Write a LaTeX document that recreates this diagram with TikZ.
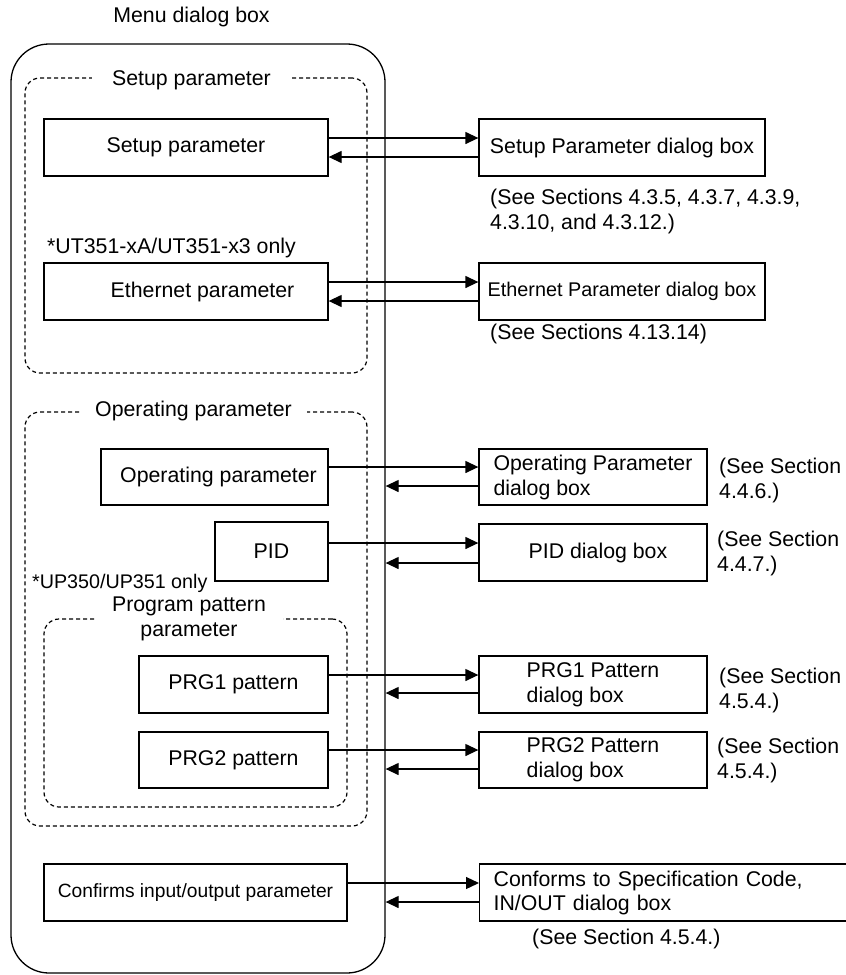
\documentclass[tikz,border=0pt]{standalone}
\usepackage{fontspec}
\setmainfont{Liberation Sans}
\usetikzlibrary{arrows.meta,calc}
\begin{document}
\begin{tikzpicture}[x=1pt,y=-1pt,
  every node/.style={font=\fontsize{21.3pt}{25pt}\selectfont, inner sep=0pt},
  box/.style={draw, line width=1.3pt, minimum height=57pt},
  grp/.style={draw, line width=1.2pt, dash pattern=on 4pt off 3pt, rounded corners=15pt},
  gtitle/.style={fill=white, inner ysep=2pt, align=center},
  note/.style={anchor=west, align=left},
  conn/.style={line width=1.3pt, -{Triangle[length=13pt,width=12pt]}},
]
\useasboundingbox (0,0) rectangle (846,975);

% title and outer box
\node (title) at (191.5,17) {Menu dialog box};
\node[draw, line width=1.3pt, rounded corners=38pt, minimum width=374pt, minimum height=929pt] (menu) at (198,508.5) {};

% group boxes
\node[grp, minimum width=342pt, minimum height=295pt] (setupgrp) at (196,225.5) {};
\node[gtitle, inner xsep=20.5pt] (setupttl) at (191.5,80) {Setup parameter};
\node[grp, minimum width=342pt, minimum height=414pt] (opgrp) at (196,619) {};
\node[gtitle, inner xsep=15pt] (opttl) at (193.5,411) {Operating parameter};
\node[grp, minimum width=303pt, minimum height=188pt] (prggrp) at (195.5,713) {};
\node[gtitle, inner xsep=17pt] (prgttl) at (189,618.5) {Program pattern\\parameter};

% notes on the left
\node[anchor=west] (utnote) at (47,248) {*UT351-xA/UT351-x3 only};
\node[anchor=west, font=\fontsize{19.7pt}{24pt}\selectfont] (upnote) at (32,583) {*UP350/UP351 only};

% left boxes
\node[box, minimum width=284pt] (sp) at (186,147.5) {Setup parameter};
\node[box, minimum width=284pt] (et) at (186,291.5) {\hspace{33pt}Ethernet parameter};
\node[box, minimum width=227pt, minimum height=56pt] (op) at (214.5,477) {\hspace{8pt}Operating parameter};
\node[box, minimum width=113pt, minimum height=59pt] (pid) at (271.5,551.5) {PID};
\node[box, minimum width=189pt] (p1) at (233.5,684.5) {PRG1 pattern\hspace{14pt}};
\node[box, minimum width=189pt, minimum height=56pt] (p2) at (233.5,760) {PRG2 pattern\hspace{14pt}};
\node[box, minimum width=303pt, font=\fontsize{19.2pt}{24pt}\selectfont] (cf) at (195.5,892.5) {Confirms input/output parameter};

% right boxes
\node[box, minimum width=286pt] (spd) at (622,147.5) {Setup Parameter dialog box};
\node[box, minimum width=286pt, font=\fontsize{19.8pt}{24pt}\selectfont] (etd) at (622,291.5) {Ethernet Parameter dialog box};
\node[box, minimum width=228pt, minimum height=56pt, align=left] (opd) at (593,477) {Operating Parameter\\dialog box};
\node[box, minimum width=228pt, align=center] (pidd) at (593,552.5) {\hspace{10pt}PID dialog box};
\node[box, minimum width=228pt, align=left] (p1d) at (593,684.5) {PRG1 Pattern\\dialog box};
\node[box, minimum width=228pt, minimum height=56pt, align=left] (p2d) at (593,760) {PRG2 Pattern\\dialog box};
\node[box, anchor=west, text width=420pt, inner xsep=14pt, align=left, font=\fontsize{21.3pt}{24pt}\selectfont] (cfd) at (479,892.5) {Conforms to Specification Code,\\IN/OUT dialog box};

% section notes
\node[note] (n1) at (490,211.5) {(See Sections 4.3.5, 4.3.7, 4.3.9,\\4.3.10, and 4.3.12.)};
\node[note] (n2) at (490,334) {(See Sections 4.13.14)};
\node[note] (n3) at (719,480) {(See Section\\4.4.6.)};
\node[note] (n4) at (717,553) {(See Section\\4.4.7.)};
\node[note] (n5) at (719,690.5) {(See Section\\4.5.4.)};
\node[note] (n6) at (717,760.5) {(See Section\\4.5.4.)};
\node[note] (n7) at (532,939) {(See Section 4.5.4.)};

% connectors
\draw[conn] ([yshift=9.5pt]sp.east) -- ([yshift=9.5pt]sp.east -| spd.west);
\draw[conn] ([yshift=-9.5pt]spd.west) -- ([yshift=-9.5pt]spd.west -| sp.east);
\draw[conn] ([yshift=9.5pt]et.east) -- ([yshift=9.5pt]et.east -| etd.west);
\draw[conn] ([yshift=-9.5pt]etd.west) -- ([yshift=-9.5pt]etd.west -| et.east);

\draw[conn] ([yshift=10pt]op.east) -- ([yshift=10pt]op.east -| opd.west);
\draw[conn] ([yshift=-9pt]opd.west) -- ([yshift=-9pt]opd.west -| menu.east);
\draw[conn] ([yshift=8.5pt]pid.east) -- ([yshift=8.5pt]pid.east -| pidd.west);
\draw[conn] ([yshift=-10.5pt]pidd.west) -- ([yshift=-10.5pt]pidd.west -| menu.east);
\draw[conn] ([yshift=9.5pt]p1.east) -- ([yshift=9.5pt]p1.east -| p1d.west);
\draw[conn] ([yshift=-8.5pt]p1d.west) -- ([yshift=-8.5pt]p1d.west -| menu.east);
\draw[conn] ([yshift=10pt]p2.east) -- ([yshift=10pt]p2.east -| p2d.west);
\draw[conn] ([yshift=-9pt]p2d.west) -- ([yshift=-9pt]p2d.west -| menu.east);
\draw[conn] ([yshift=9.5pt]cf.east) -- ([yshift=9.5pt]cf.east -| cfd.west);
\draw[conn] ([yshift=-9.5pt]cfd.west) -- ([yshift=-9.5pt]cfd.west -| menu.east);
\end{tikzpicture}
\end{document}
